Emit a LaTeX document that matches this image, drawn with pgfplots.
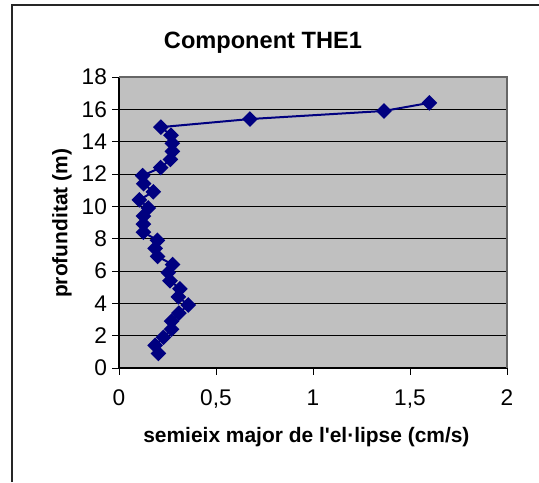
\documentclass[border=0pt]{standalone}
\usepackage{fontspec}
\setmainfont{Liberation Sans}[Ligatures=TeXOff]
\usepackage{pgfplots}
\pgfplotsset{compat=1.18}
\definecolor{plotgrey}{HTML}{C0C0C0}
\definecolor{navyline}{HTML}{000080}
\begin{document}
\begin{tikzpicture}
\path[use as bounding box] (0pt,0pt) rectangle (404.25pt,-361.5pt);
\draw[line width=1.2pt, black!85] (9pt,-361.5pt) -- (9pt,-3.75pt) -- (404.25pt,-3.75pt);
\begin{axis}[
  at={(89.25pt,-276pt)}, anchor=south west,
  scale only axis, width=291pt, height=218.25pt,
  xmin=0, xmax=2, ymin=0, ymax=18,
  xtick={0,0.5,1,1.5,2}, ytick={0,2,...,18},
  xticklabels={0,{0,5},1,{1,5},2},
  axis background/.style={fill=plotgrey},
  axis line style={draw=gray!80!black, line width=0.8pt},
  axis x line*=bottom, axis y line*=left,
  ymajorgrids, grid style={black, line width=0.6pt},
  tick align=outside, major tick length=5pt,
  tick style={black, line width=0.6pt},
  xtick pos=bottom, ytick pos=left,
  /pgf/number format/assume math mode=true,
  xticklabel style={font=\fontsize{17}{19}\selectfont, yshift=-8pt},
  yticklabel style={font=\fontsize{17}{19}\selectfont, xshift=-0.5pt},
  title={Component THE1},
  title style={font=\bfseries\fontsize{17.7}{20}\selectfont, at={(axis description cs:0.371,1.090)}, anchor=center},
  xlabel={semieix major de l'el·lipse (cm/s)},
  ylabel={profunditat (m)},
  label style={font=\bfseries\fontsize{15.7}{18}\selectfont},
  xlabel style={at={(axis description cs:0.483,-0.237)}, anchor=center},
  ylabel style={at={(axis description cs:-0.147,0.497)}, anchor=center},
  clip=false,
]
\draw[black, line width=0.8pt] (axis cs:0,0) -- (axis cs:0,18);
\draw[black, line width=0.8pt] (axis cs:0,0) -- (axis cs:2,0);
\draw[gray!80!black, line width=1pt] (axis cs:0,18) -- (axis cs:2,18) -- (axis cs:2,0);
\addplot[navyline, line width=1.5pt, mark=square*, mark size=3.4pt,
  mark options={rotate=45, fill=navyline, draw=navyline}] coordinates {
(0.203,0.9) (0.186,1.4) (0.229,1.9) (0.271,2.4) (0.271,2.9) (0.309,3.4)
(0.357,3.9) (0.306,4.4) (0.314,4.9) (0.263,5.4) (0.254,5.9) (0.276,6.4)
(0.199,6.9) (0.186,7.4) (0.198,7.9) (0.126,8.4) (0.126,8.9) (0.126,9.4)
(0.151,9.9) (0.105,10.4) (0.177,10.9) (0.127,11.4) (0.122,11.9) (0.215,12.4)
(0.265,12.9) (0.275,13.4) (0.275,13.9) (0.268,14.4) (0.216,14.9) (0.675,15.4)
(1.366,15.9) (1.60,16.4)
};
\end{axis}
\end{tikzpicture}
\end{document}
